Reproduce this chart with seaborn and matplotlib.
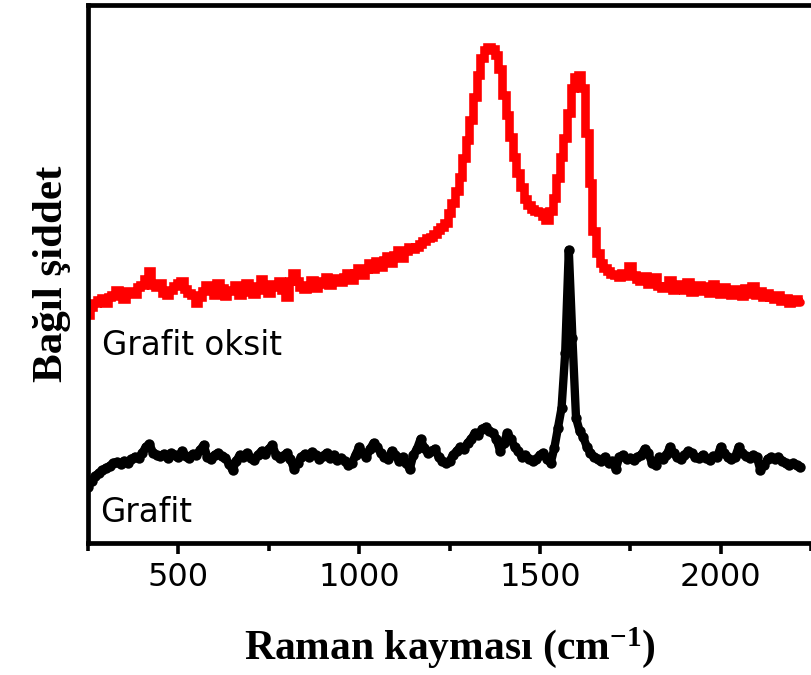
import numpy as np
import pandas as pd
import matplotlib
matplotlib.use("Agg")
import matplotlib.pyplot as plt
import seaborn as sns

# Raman shift grid (cm^-1), step 10 from 250 to 2220
raman_shift = np.arange(250, 2221, 10)

# Graphite oxide (Grafit oksit) - relative intensity, arbitrary units
grafit_oksit = [
    228, 236, 240, 243, 245, 240, 246, 248, 253, 247,
    244, 252, 252, 249, 256, 258, 264, 272, 258, 256,
    260, 250, 248, 253, 257, 260, 262, 254, 250, 248,
    240, 246, 252, 258, 254, 248, 260, 255, 247, 253,
    252, 258, 248, 254, 260, 251, 249, 257, 264, 253,
    250, 259, 256, 262, 253, 246, 262, 270, 262, 256,
    254, 258, 263, 255, 259, 262, 266, 258, 262, 265,
    261, 266, 270, 263, 270, 275, 268, 274, 280, 274,
    282, 276, 283, 287, 280, 288, 293, 285, 292, 296,
    294, 296, 299, 302, 305, 306, 309, 313, 316, 320,
    330, 340, 352, 366, 385, 403, 423, 446, 468, 485,
    493, 496, 494, 488, 474, 448, 428, 406, 386, 370,
    356, 344, 338, 334, 332, 331, 327, 323, 332, 345,
    365, 386, 405, 430, 455, 466, 468, 455, 410, 360,
    312, 290, 280, 275, 272, 269, 268, 266, 270, 267,
    277, 268, 264, 262, 267, 259, 263, 266, 257, 255,
    257, 263, 253, 256, 259, 253, 261, 251, 255, 258,
    252, 257, 250, 259, 254, 249, 256, 252, 248, 254,
    252, 247, 255, 249, 257, 248, 252, 246, 250, 246,
    244, 248, 242, 245, 240, 242, 244, 241,
]

# Graphite (Grafit) - relative intensity, arbitrary units
grafit = [
    56, 62, 67, 70, 73, 75, 77, 80, 81, 79,
    82, 80, 84, 86, 85, 90, 96, 99, 90, 88,
    87, 89, 85, 90, 88, 86, 92, 87, 85, 89,
    88, 93, 98, 86, 84, 88, 90, 87, 85, 79,
    73, 82, 88, 86, 90, 85, 83, 88, 92, 89,
    94, 98, 88, 85, 87, 90, 84, 74, 80, 86,
    89, 86, 91, 88, 84, 87, 90, 85, 88, 83,
    85, 82, 78, 80, 88, 96, 90, 86, 94, 100,
    96, 90, 86, 84, 92, 88, 82, 86, 80, 74,
    88, 94, 104, 95, 90, 92, 94, 86, 82, 80,
    82, 88, 92, 96, 94, 100, 104, 110, 108, 114,
    116, 112, 110, 104, 92, 100, 110, 104, 96, 92,
    86, 88, 84, 82, 84, 88, 90, 84, 80, 95,
    115, 135, 190, 293, 205, 125, 112, 106, 96, 90,
    86, 84, 82, 86, 80, 82, 74, 86, 88, 84,
    85, 83, 86, 88, 94, 90, 80, 78, 86, 84,
    88, 96, 90, 86, 84, 88, 92, 90, 86, 85,
    88, 85, 83, 87, 86, 96, 90, 86, 84, 86,
    96, 90, 87, 85, 88, 86, 73, 78, 84, 86,
    84, 86, 82, 80, 78, 80, 78, 76,
]

series_labels = ["Grafit oksit", "Grafit"]
x_ticks = [500, 1000, 1500, 2000]
x_minor_ticks = [250, 750, 1250, 1750, 2250]

df_oksit = pd.DataFrame({"shift": raman_shift, "intensity": grafit_oksit})
df_grafit = pd.DataFrame({"shift": raman_shift, "intensity": grafit})

sns.set_style("white")
plt.rcParams["text.color"] = "black"
plt.rcParams["axes.labelcolor"] = "black"
plt.rcParams["xtick.color"] = "black"
plt.rcParams["mathtext.fontset"] = "custom"
plt.rcParams["mathtext.rm"] = "Liberation Serif:bold"
plt.rcParams["mathtext.bf"] = "Liberation Serif:bold"
plt.rcParams["mathtext.it"] = "Liberation Serif:bold"

fig = plt.figure(figsize=(8.11, 6.75), dpi=100)
ax = fig.add_axes([88 / 811, 132 / 675, 1 - 88 / 811, (543 - 5) / 675])

sns.lineplot(data=df_oksit, x="shift", y="intensity", color="#ff0000",
             lw=6.2, ax=ax, drawstyle="steps-mid", solid_joinstyle="miter")
sns.lineplot(data=df_grafit, x="shift", y="intensity", color="black",
             lw=6.0, ax=ax, marker="o", markersize=7.5, markeredgewidth=0,
             solid_joinstyle="round", solid_capstyle="round")

ax.set_xlim(250, 2221)
ax.set_ylim(0, 538)

ax.set_xticks(x_ticks)
ax.set_xticks(x_minor_ticks, minor=True)
ax.set_yticks([])
ax.tick_params(axis="x", which="major", direction="out", length=8, width=2.6,
               labelsize=23, pad=6, bottom=True, colors="black")
ax.tick_params(axis="x", which="minor", direction="out", length=6, width=2.6,
               bottom=True, colors="black")
for lbl in ax.get_xticklabels():
    lbl.set_fontfamily("DejaVu Sans")

for side in ["left", "top", "bottom"]:
    ax.spines[side].set_linewidth(3.4)
    ax.spines[side].set_color("black")
ax.spines["right"].set_visible(False)

ax.set_xlabel("Raman kayması (cm$^{-1}$)", fontsize=30, fontweight="bold",
              family="Liberation Serif", labelpad=23, color="black")
ax.set_ylabel("Bağıl şiddet", fontsize=31, fontweight="bold",
              family="Liberation Serif", labelpad=12, color="black")

ax.text(290, 188, series_labels[0], fontsize=23.5, family="DejaVu Sans",
        va="baseline", ha="left", color="black")
ax.text(283, 21, series_labels[1], fontsize=23.5, family="DejaVu Sans",
        va="baseline", ha="left", color="black")

fig.savefig("out.png", dpi=100)
